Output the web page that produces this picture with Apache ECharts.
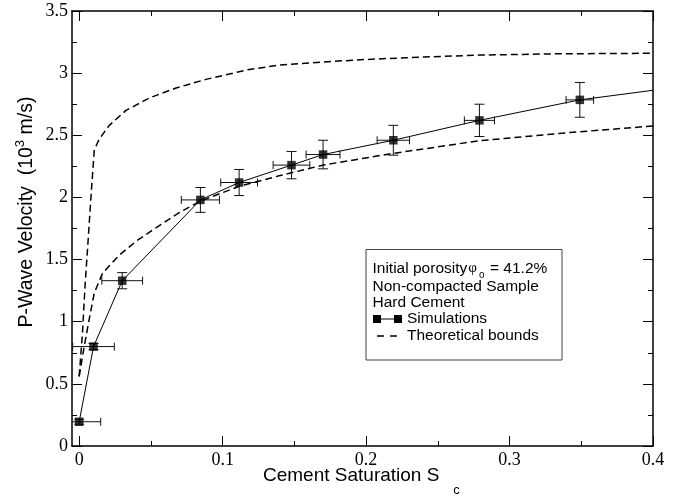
<!DOCTYPE html>
<html><head><meta charset="utf-8">
<script src="https://cdn.jsdelivr.net/npm/echarts@6/dist/echarts.min.js"></script>
<style>html,body{margin:0;padding:0;background:#fff}#c{width:689px;height:497px}</style>
</head><body><div id="c"></div>
<script>
// Simulations (cement saturation, P-wave velocity in 10^3 m/s)
const simX = [0, 0.01, 0.03, 0.0845, 0.1115, 0.148, 0.17, 0.219, 0.279, 0.349];
const simY = [0.195, 0.80, 1.33, 1.98, 2.12, 2.26, 2.345, 2.46, 2.62, 2.785];
const simXErr = [0.015, 0.0145, 0.0142, 0.0133, 0.0128, 0.0128, 0.0118, 0.0113, 0.0105, 0.0096];
const simYErr = [0.02, 0.025, 0.065, 0.1, 0.105, 0.11, 0.115, 0.12, 0.13, 0.14];
// line continues past last marker to the right edge
const simTailX = [0.4];
const simTailY = [2.862];
// Theoretical bounds
const upX = [0, 0.0023, 0.0042, 0.0058, 0.0082, 0.0105, 0.014, 0.021, 0.0326, 0.0488, 0.0675, 0.0884, 0.1186, 0.14, 0.17, 0.2, 0.24, 0.279, 0.33, 0.4];
const upY = [0.56, 0.91, 1.31, 1.58, 2.0, 2.38, 2.47, 2.58, 2.70, 2.80, 2.88, 2.95, 3.03, 3.065, 3.09, 3.11, 3.13, 3.145, 3.155, 3.16];
const loX = [0, 0.0035, 0.007, 0.0105, 0.0163, 0.028, 0.04, 0.054, 0.07, 0.0844, 0.1117, 0.14, 0.17, 0.2163, 0.279, 0.34, 0.4];
const loY = [0.56, 0.80, 1.02, 1.23, 1.39, 1.536, 1.65, 1.76, 1.88, 1.97, 2.09, 2.176, 2.26, 2.35, 2.456, 2.52, 2.575];
// Axis ticks
const xMajor = [0, 0.1, 0.2, 0.3, 0.4];
const xMinor = [0.05, 0.15, 0.25, 0.35];

const xMin = -0.005, xMax = 0.4;
const serif = 'Liberation Serif';
const sans = 'Liberation Sans';

const zip = (a, b) => a.map((v, i) => [v, b[i]]);
const simLine = zip(simX.concat(simTailX), simY.concat(simTailY));
const simPts = zip(simX, simY);
const errData = simX.map((x, i) => [x, simY[i], simXErr[i], simYErr[i]]);

function xAxisDef(pos, ticks, len, showLine, showLabel) {
  return {
    type: 'value', position: pos, min: xMin, max: xMax,
    axisLine: { show: showLine, onZero: false, lineStyle: { color: '#000', width: 1.5 } },
    axisTick: { show: true, inside: true, length: len, customValues: ticks, lineStyle: { color: '#000', width: 1 } },
    axisLabel: { show: showLabel, customValues: ticks, fontFamily: serif, fontSize: 18, color: '#000', margin: 5 },
    splitLine: { show: false }
  };
}
function yAxisDef(pos, showLabel) {
  return {
    type: 'value', position: pos, min: 0, max: 3.5, interval: 0.5,
    axisLine: { show: true, onZero: false, lineStyle: { color: '#000', width: 1.5 } },
    axisTick: { show: true, inside: true, length: 10, lineStyle: { color: '#000', width: 1 } },
    minorTick: { show: true, splitNumber: 2, length: 5, lineStyle: { color: '#000', width: 1 } },
    axisLabel: { show: showLabel, fontFamily: serif, fontSize: 18, color: '#000', margin: 4 },
    splitLine: { show: false }, minorSplitLine: { show: false }
  };
}

// measure text widths
const mctx = document.createElement('canvas').getContext('2d');
function tw(str, size, fam) { mctx.font = size + 'px "' + (fam || sans) + '"'; return mctx.measureText(str).width; }
const yT1 = 'P-Wave Velocity  (10', yT2 = '3', yT3 = ' m/s)';
const yFs = 19.5;
const w1 = tw(yT1, yFs), w2 = tw(yT2, 13), w3 = tw(yT3, yFs);
const W = w1 + w2 + w3;
const xTitle = 'Cement Saturation S';
const xFs = 19;
const xtw = tw(xTitle, xFs);
const lgFs = 15.5;
const lgFont = lgFs + 'px "' + sans + '"';
const ipW = tw('Initial porosity', lgFs);
const phiW = tw('φ', 15, serif);

const chart = echarts.init(document.getElementById('c'), null, { renderer: 'canvas' });
chart.setOption({
  animation: false,
  backgroundColor: '#fff',
  grid: { left: 72, top: 11, right: 36, bottom: 51, containLabel: false },
  xAxis: [
    xAxisDef('bottom', xMajor, 10, true, true),
    xAxisDef('bottom', xMinor, 5, false, false),
    xAxisDef('top', xMajor, 10, true, false),
    xAxisDef('top', xMinor, 5, false, false)
  ],
  yAxis: [yAxisDef('left', true), yAxisDef('right', false)],
  series: [
    {
      name: 'Theoretical bounds', type: 'line', data: zip(upX, upY), showSymbol: false,
      lineStyle: { color: '#000', width: 1.5, type: [7, 4] }, z: 2
    },
    {
      name: 'Theoretical bounds lower', type: 'line', data: zip(loX, loY), showSymbol: false,
      lineStyle: { color: '#000', width: 1.5, type: [7, 4] }, z: 2
    },
    {
      name: 'Simulations', type: 'line', data: simLine, showSymbol: false,
      lineStyle: { color: '#000', width: 1 }, z: 3
    },
    {
      name: 'errors', type: 'custom', clip: true, data: errData, z: 4,
      renderItem: function (params, api) {
        const x = api.value(0), y = api.value(1), dx = api.value(2), dy = api.value(3);
        const L = api.coord([x - dx, y]), R = api.coord([x + dx, y]);
        const T = api.coord([x, y + dy]), B = api.coord([x, y - dy]);
        const c = 4, s = { stroke: '#111', lineWidth: 1, fill: null };
        return {
          type: 'group', children: [
            { type: 'line', shape: { x1: L[0], y1: L[1], x2: R[0], y2: R[1] }, style: s },
            { type: 'line', shape: { x1: L[0], y1: L[1] - c, x2: L[0], y2: L[1] + c }, style: s },
            { type: 'line', shape: { x1: R[0], y1: R[1] - c, x2: R[0], y2: R[1] + c }, style: s },
            { type: 'line', shape: { x1: T[0], y1: T[1], x2: B[0], y2: B[1] }, style: s },
            { type: 'line', shape: { x1: T[0] - 5, y1: T[1], x2: T[0] + 5, y2: T[1] }, style: s },
            { type: 'line', shape: { x1: B[0] - 5, y1: B[1], x2: B[0] + 5, y2: B[1] }, style: s }
          ]
        };
      }
    },
    {
      name: 'Simulations markers', type: 'scatter', data: simPts, symbol: 'rect', symbolSize: 8.5,
      itemStyle: { color: '#000' }, z: 5
    }
  ],
  graphic: [
    // x axis title
    { type: 'text', x: 263, y: 476, style: { text: xTitle, font: xFs + 'px "' + sans + '"', fill: '#000', verticalAlign: 'middle' } },
    { type: 'text', x: 263 + xtw + 14, y: 490, style: { text: 'c', font: '13px "' + sans + '"', fill: '#000', verticalAlign: 'middle' } },
    // y axis title (rotated)
    {
      type: 'group', x: 27, y: 212, rotation: Math.PI / 2,
      children: [
        { type: 'text', x: -W / 2, y: 0, style: { text: yT1, font: yFs + 'px "' + sans + '"', fill: '#000', verticalAlign: 'middle' } },
        { type: 'text', x: -W / 2 + w1, y: -7, style: { text: yT2, font: '13px "' + sans + '"', fill: '#000', verticalAlign: 'middle' } },
        { type: 'text', x: -W / 2 + w1 + w2, y: 0, style: { text: yT3, font: yFs + 'px "' + sans + '"', fill: '#000', verticalAlign: 'middle' } }
      ]
    },
    // legend box
    { type: 'rect', shape: { x: 366, y: 249.5, width: 196, height: 110.5 }, style: { fill: '#fff', stroke: '#444', lineWidth: 1 }, z: 10 },
    { type: 'text', x: 372.5, y: 269, style: { text: 'Initial porosity', font: lgFont, fill: '#000', verticalAlign: 'middle' }, z: 11 },
    { type: 'text', x: 372.5 + ipW + 1, y: 268, style: { text: 'φ', font: '15px "' + serif + '"', fill: '#000', verticalAlign: 'middle' }, z: 11 },
    { type: 'text', x: 372.5 + ipW + phiW + 3, y: 275, style: { text: 'o', font: '10px "' + sans + '"', fill: '#000', verticalAlign: 'middle' }, z: 11 },
    { type: 'text', x: 490, y: 269, style: { text: '= 41.2%', font: lgFont, fill: '#000', verticalAlign: 'middle' }, z: 11 },
    { type: 'text', x: 372.5, y: 286.5, style: { text: 'Non-compacted Sample', font: lgFont, fill: '#000', verticalAlign: 'middle' }, z: 11 },
    { type: 'text', x: 372.5, y: 303, style: { text: 'Hard Cement', font: lgFont, fill: '#000', verticalAlign: 'middle' }, z: 11 },
    { type: 'line', shape: { x1: 377, y1: 319, x2: 398, y2: 319 }, style: { stroke: '#000', lineWidth: 1 }, z: 11 },
    { type: 'rect', shape: { x: 373, y: 315, width: 8, height: 8 }, style: { fill: '#000' }, z: 11 },
    { type: 'rect', shape: { x: 394, y: 315, width: 8, height: 8 }, style: { fill: '#000' }, z: 11 },
    { type: 'text', x: 407, y: 319, style: { text: 'Simulations', font: lgFont, fill: '#000', verticalAlign: 'middle' }, z: 11 },
    { type: 'line', shape: { x1: 377, y1: 336, x2: 398, y2: 336 }, style: { stroke: '#000', lineWidth: 1.5, lineDash: [7, 6] }, z: 11 },
    { type: 'text', x: 407, y: 336, style: { text: 'Theoretical bounds', font: lgFont, fill: '#000', verticalAlign: 'middle' }, z: 11 }
  ]
});
</script>
</body></html>
